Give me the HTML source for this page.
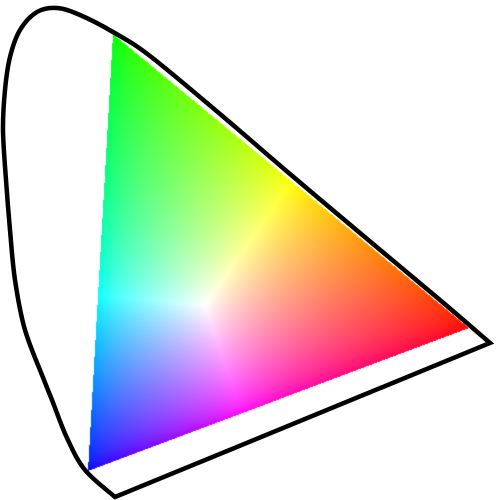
<!DOCTYPE html>
<html><head><meta charset="utf-8"><style>
html,body{margin:0;padding:0;background:#fff;width:500px;height:500px;overflow:hidden}
#wrap{position:relative;width:500px;height:500px}
canvas,svg{position:absolute;left:0;top:0}
</style></head><body>
<div id="wrap">
<canvas id="gamut" width="500" height="500"></canvas>
<svg id="locus" width="500" height="500"></svg>
</div>
<script>
// primaries (pixel positions of gamut vertices) and white point
const primaryNames = ['red','green','blue'];
const primaryPx = [[469,328],[113,34],[88,471]];
const whitePx = [205,305];
// spectral locus outline points
const locusPts = [[490,343],[440,300],[360,233],[290,174],[220,114],[150,56],[113,32],[80,15],[57,8],[37,12],[20,30],[10,57],[5,90],[3,130],[6,180],[10,230],[15,280],[25,330],[44,380],[52,400],[67,438],[85,470],[115,497]];

function bary(x,y){
  const [a,b,c]=primaryPx;
  const d=(b[1]-c[1])*(a[0]-c[0])+(c[0]-b[0])*(a[1]-c[1]);
  const l1=((b[1]-c[1])*(x-c[0])+(c[0]-b[0])*(y-c[1]))/d;
  const l2=((c[1]-a[1])*(x-c[0])+(a[0]-c[0])*(y-c[1]))/d;
  return [l1,l2,1-l1-l2];
}
const wb=bary(whitePx[0],whitePx[1]);
const ctx=document.getElementById('gamut').getContext('2d');
const img=ctx.createImageData(500,500);
for(let y=0;y<500;y++)for(let x=0;x<500;x++){
  const l=bary(x+0.5,y+0.5);
  if(l[0]<0||l[1]<0||l[2]<0)continue;
  let r=l[0]/wb[0],g=l[1]/wb[1],b=l[2]/wb[2];
  const m=Math.max(r,g,b);
  r/=m;g/=m;b/=m;
  const i=(y*500+x)*4;
  img.data[i]=255*Math.pow(r,0.6);img.data[i+1]=255*Math.pow(g,0.6);img.data[i+2]=255*Math.pow(b,0.6);img.data[i+3]=255;
}
ctx.putImageData(img,0,0);

let d='M'+locusPts[0].join(',');
for(let i=0;i<locusPts.length-1;i++){
  const p0=locusPts[Math.max(i-1,0)],p1=locusPts[i],p2=locusPts[i+1],p3=locusPts[Math.min(i+2,locusPts.length-1)];
  const c1=[p1[0]+(p2[0]-p0[0])/6,p1[1]+(p2[1]-p0[1])/6];
  const c2=[p2[0]-(p3[0]-p1[0])/6,p2[1]-(p3[1]-p1[1])/6];
  d+=` C${c1[0]},${c1[1]} ${c2[0]},${c2[1]} ${p2[0]},${p2[1]}`;
}
d+='Z';
const svg=document.getElementById('locus');
const path=document.createElementNS('http://www.w3.org/2000/svg','path');
path.setAttribute('d',d);
path.setAttribute('fill','none');
path.setAttribute('stroke','#000');
path.setAttribute('stroke-width','4.5');
path.setAttribute('stroke-linejoin','miter');


svg.appendChild(path);
</script>
</body></html>
